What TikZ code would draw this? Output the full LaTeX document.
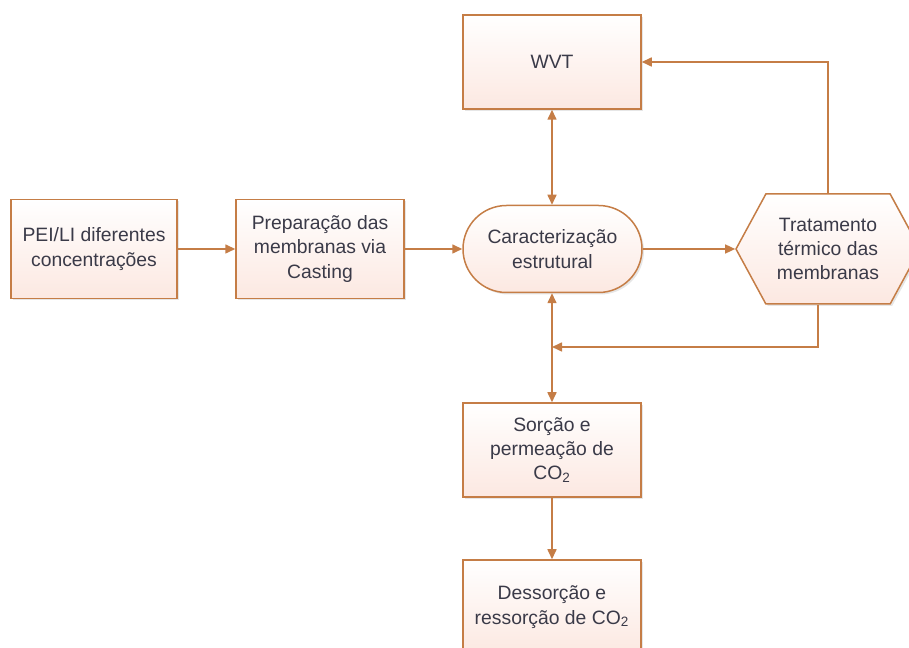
\documentclass[tikz,border=0pt]{standalone}
\usepackage{fontspec}
\setmainfont{Liberation Sans}
\usepackage{tikz}
\usetikzlibrary{arrows.meta,shapes.symbols,shadows}
\definecolor{edgecol}{RGB}{197,125,70}
\definecolor{fillcol}{RGB}{252,232,225}
\definecolor{textcol}{RGB}{58,58,72}
\tikzset{
	% common look of all blocks
	block/.style={draw=edgecol,line width=0.85pt,top color=white,bottom color=fillcol,
		text=textcol,align=center,font=\fontsize{11}{13.9}\selectfont,
		drop shadow={shadow xshift=0.04cm,shadow yshift=-0.04cm,opacity=0.2,fill=gray}},
	procbox/.style={block,rectangle,minimum width=#1,minimum height=1.98cm},
	stadium/.style={block,rectangle,rounded corners=0.87cm,minimum width=3.58cm,minimum height=1.74cm},
	hexa/.style={block,signal,signal to=west and east,signal pointer angle=123,
		minimum width=3.68cm,minimum height=2.2cm,inner sep=0pt},
	flow/.style={draw=edgecol,line width=0.9pt,-{Triangle[length=2mm,width=1.8mm]}},
	twoway/.style={flow,{Triangle[length=2mm,width=1.8mm]}-{Triangle[length=2mm,width=1.8mm]}},
}

\begin{document}
\begin{tikzpicture}
		% fix the frame of the picture
		\useasboundingbox (0,0) rectangle (18.18,12.96);
		
		% blocks of the flow
		\node[procbox=3.32cm] (pei) at (1.88,7.98) {PEI/LI diferentes\\concentrações};
		\node[procbox=3.36cm] (prep) at (6.40,7.98) {Preparação das\\membranas via\\Casting};
		\node[stadium] (carac) at (11.05,7.98) {Caracterização\\estrutural};
		\node[hexa] (trat) at (16.56,7.98) {Tratamento\\térmico das\\membranas};
		\node[procbox=3.56cm,minimum height=1.88cm] (wvt) at (11.04,11.72) {WVT};
		\node[procbox=3.56cm,minimum height=1.88cm] (sorc) at (11.04,3.96) {Sorção e\\permeação de\\CO\textsubscript{2}};
		\node[procbox=3.56cm,minimum height=1.88cm] (dess) at (11.04,0.82) {Dessorção e\\ressorção de CO\textsubscript{2}};
		
		% return point on the vertical line
		\coordinate (ret) at (11.04,6.02);
		
		% connectors
		\draw[flow] (pei) -- (prep);
		\draw[flow] (prep) -- (carac);
		\draw[flow] (carac) -- (trat);
		\draw[flow] (trat.north) |- (wvt.east);
		\draw[twoway] (wvt.south) -- (wvt.south |- carac.north);
		\draw[flow] ([xshift=-0.2cm]trat.south) |- (ret);
		\draw[twoway] (carac.south -| sorc.north) -- (sorc.north);
		\draw[flow] (sorc) -- (dess);
		
		\end{tikzpicture}
\end{document}
